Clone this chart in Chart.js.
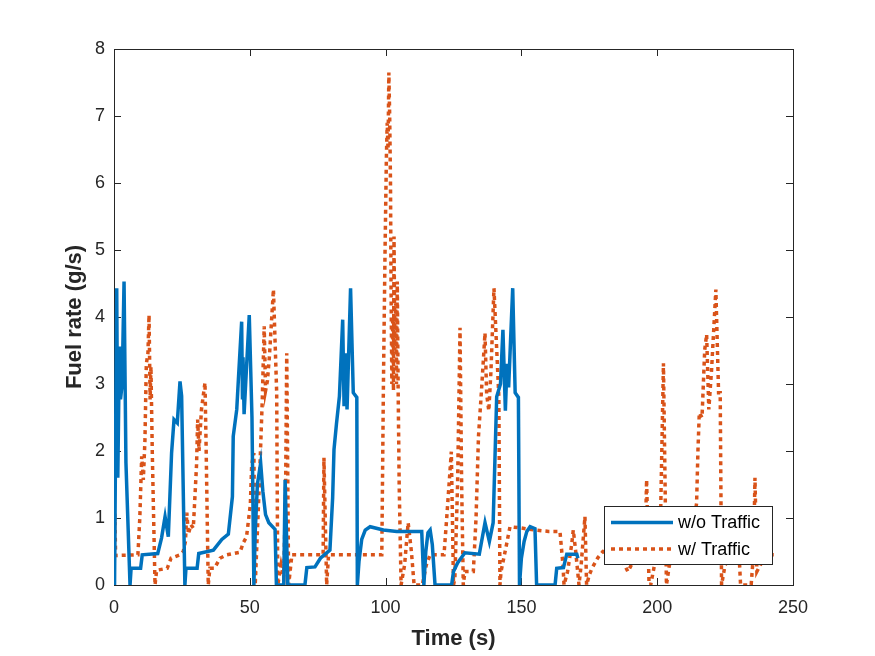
<!DOCTYPE html>
<html>
<head>
<meta charset="utf-8">
<script src="https://cdn.jsdelivr.net/npm/chart.js@4.4.1/dist/chart.umd.min.js"></script>
<style>
  body { margin: 0; background: #fff; }
</style>
</head>
<body>
<canvas id="fuelChart" width="875" height="656"></canvas>
<script>

/* DATA */

const seriesLabels = ["w/o Traffic", "w/ Traffic"];

const xTicks = [0, 50, 100, 150, 200, 250];
const yTicks = [0, 1, 2, 3, 4, 5, 6, 7, 8];

// w/o Traffic
const woTime = [
  0.2, 0.5, 1.0, 1.4, 2.0, 2.4, 3.0, 3.7, 4.4, 5.9, 6.3, 9.8, 10.4, 16.1, 17.5,
  18.8, 20.0, 21.2, 22.1, 23.3, 24.3, 24.9, 26.1, 26.5, 30.6, 31.2, 36.6, 39.7,
  42.1, 43.6, 43.9, 45.2, 45.8, 47.0, 47.3, 47.5, 47.9, 49.8, 50.8, 51.5, 52.0,
  52.8, 54.0, 54.8, 55.8, 57.0, 59.3, 59.8, 62.5, 63.0, 64.0, 70.3, 71.0, 74.0,
  76.0, 78.3, 79.5, 80.5, 81.0, 81.9, 83.0, 84.2, 84.7, 85.3, 85.8, 87.1, 88.1,
  89.4, 89.6, 90.2, 91.2, 92.5, 94.3, 99.2, 104.1, 109.0, 113.3, 114.1, 114.8,
  115.6, 116.4, 117.2, 118.2, 124.3, 125.0, 126.5, 129.2, 134.5, 136.6, 138.2,
  139.6, 140.9, 142.3, 143.2, 144.1, 144.7, 145.3, 146.8, 147.7, 148.9, 149.3,
  150.0, 151.0, 152.0, 153.2, 155.0, 155.6, 162.4, 163.0, 165.5, 166.7, 170.4,
  170.8
];
const woFuel = [
  0, 1.7, 4.43, 1.6, 3.56, 2.77, 3.0, 4.53, 1.82, 0, 0.25, 0.25, 0.45, 0.47, 0.7,
  1.02, 0.72, 1.97, 2.47, 2.42, 3.04, 2.82, 0, 0.25, 0.25, 0.47, 0.52, 0.68,
  0.76, 1.32, 2.22, 2.62, 3.07, 3.93, 2.77, 3.4, 2.55, 4.03, 2.5, 0, 0.8,
  1.5, 1.82, 1.4, 1.05, 0.93, 0.83, 0, 0, 1.57, 0, 0, 0.26, 0.27,
  0.4, 0.48, 0.52, 1.3, 2.02, 2.4, 2.82, 3.96, 2.67, 3.46, 2.62, 4.43, 2.87,
  2.8, 0, 0.35, 0.68, 0.82, 0.87, 0.82, 0.8, 0.8, 0.8, 0, 0.5,
  0.78, 0.82, 0.6, 0, 0, 0.2, 0.33, 0.48, 0.46, 0.93, 0.65,
  0.93, 2.81, 3.0, 3.81, 2.6, 3.3, 2.95, 4.43, 2.87, 2.8, 0,
  0.4, 0.65, 0.8, 0.87, 0.84, 0, 0, 0.25, 0.26, 0.46, 0.46,
  0.4
];

// w/ Traffic
const wTime = [
  0, 0.3, 0.6, 8.8, 9.5, 10.2, 10.8, 11.4, 11.9, 12.5, 12.9, 13.3, 13.6, 14.1,
  15.1, 15.7, 19.6, 21.0, 24.3, 25.5, 26.3, 26.8, 27.4, 28.3, 29.2, 29.8, 30.4,
  30.8, 31.3, 32.2, 33.5, 33.9, 34.7, 35.3, 37.0, 39.0, 41.5, 46.4, 47.6, 48.8,
  50.2, 50.7, 51.5, 52.0, 52.8, 53.5, 54.6, 55.3, 55.8, 56.5, 57.2, 58.7, 59.9,
  60.3, 61.5, 62.5, 63.2, 63.6, 64.3, 65.5, 77.0, 77.3, 78.3, 79.0, 98.6, 99.2,
  99.8, 100.3, 100.6, 100.9, 101.2, 101.5, 101.8, 102.0, 102.3, 102.6, 102.9,
  103.1, 103.4, 103.7, 104.0, 104.3, 104.6, 105.0, 105.7, 107.0, 108.3, 109.5,
  110.5, 113.5, 115.0, 116.4, 121.5, 122.5, 124.2, 125.0, 125.5, 126.5, 127.4,
  128.0, 128.6, 129.2, 132.3, 133.3, 134.2, 135.3, 136.6, 137.2, 138.0, 138.8,
  139.9, 141.7, 142.1, 142.5, 144.5, 145.8, 150.0, 155.0, 160.0, 164.2, 165.3,
  165.7, 167.0, 168.5, 169.1, 170.0, 171.2, 172.0, 173.4, 174.0, 175.0, 176.0,
  178.2, 180.0, 185.0, 188.0, 189.2, 190.5, 193.0, 195.5, 196.1, 197.0, 197.6,
  199.0, 201.0, 202.3, 203.4, 204.5, 207.0, 210.0, 213.0, 214.5, 215.0, 215.5,
  216.5, 217.5, 218.2, 219.0, 220.0, 221.6, 222.6, 223.2, 223.7, 225.0, 228.0,
  230.3, 230.7, 234.6, 235.5, 236.0, 236.7, 238.0, 240.0, 244.0
];
const wFuel = [
  0, 1.07, 0.44, 0.45, 1.0, 1.92, 1.57, 2.17, 3.3, 3.46, 4.03, 2.77, 3.26, 1.97,
  0, 0.22, 0.25, 0.4, 0.45, 0.5, 0.65, 1.08, 0.76, 0.9, 0.85, 1.32, 1.8,
  2.47, 2.0, 2.62, 3.02, 2.1, 0, 0.25, 0.25, 0.4, 0.45, 0.49, 0.63, 0.72,
  1.2, 1.8, 1.97, 0, 0.8, 1.5, 2.77, 3.86, 2.9, 3.05, 3.4, 4.41, 2.87,
  0, 0.3, 0.1, 1.5, 3.46, 0, 0.45, 0.45, 1.9, 0, 0.45, 0.45, 3.0,
  5.0, 6.4, 6.9, 6.5, 7.65, 7.0, 6.0, 4.5, 3.0, 4.0, 2.9,
  5.2, 3.5, 4.2, 3.0, 4.53, 3.0, 1.5, 0, 0.3, 0.93, 0.5,
  0, 0, 0.3, 0.45, 0.45, 1.0, 1.99, 0, 0.1, 1.5, 3.84,
  1.5, 0, 0.2, 0.2, 1.0, 2.22, 2.9, 3.76, 2.85, 2.6, 3.2,
  4.43, 2.8, 0, 0.2, 0.6, 0.87, 0.85, 0.82, 0.8, 0.8, 0.3,
  0, 0.2, 0.6, 0.82, 0.5, 0, 0.3, 1.02, 0, 0.15, 0.25,
  0.41, 0.5, 0.45, 0.3, 0.2, 0.3, 0.4, 0.5, 1.57, 0, 0,
  0.3, 0.5, 3.31, 0, 0.3, 0.5, 0.5, 0.8, 1.22, 2.0, 2.57,
  2.5, 3.51, 3.74, 2.62, 3.2, 4.41, 2.87, 2.87, 0, 0.3, 0.45,
  0.33, 0, 0, 0.5, 1.6, 0.2, 0.3, 0.45, 0.45
];

const BLUE = "#0072BD";
const ORANGE = "#D95319";
const AXIS = "#262626";
const FONT = "'Liberation Sans', Arial, Helvetica, sans-serif";


/* BOX + INWARD TICKS (matlab style) */

const boxPlugin = {
  id: "boxTicks",
  beforeDatasetsDraw(chart) {
    const { ctx, chartArea: a, scales } = chart;
    const len = 7;
    ctx.save();
    ctx.strokeStyle = AXIS;
    ctx.lineWidth = 1;
    ctx.strokeRect(a.left + 0.5, a.top + 0.5, a.right - a.left, a.bottom - a.top);
    ctx.beginPath();
    xTicks.forEach(v => {
      const x = Math.round(scales.x.getPixelForValue(v)) + 0.5;
      ctx.moveTo(x, a.bottom); ctx.lineTo(x, a.bottom - len);
      ctx.moveTo(x, a.top); ctx.lineTo(x, a.top + len);
    });
    yTicks.forEach(v => {
      const y = Math.round(scales.y.getPixelForValue(v)) + 0.5;
      ctx.moveTo(a.left, y); ctx.lineTo(a.left + len, y);
      ctx.moveTo(a.right, y); ctx.lineTo(a.right - len, y);
    });
    ctx.stroke();
    ctx.restore();
  }
};


/* LEGEND BOX INSIDE PLOT */

const legendPlugin = {
  id: "innerLegend",
  afterDatasetsDraw(chart) {
    const { ctx } = chart;
    const box = { x: 604.5, y: 506.5, w: 168, h: 58 };
    ctx.save();
    ctx.fillStyle = "#fff";
    ctx.fillRect(box.x, box.y, box.w, box.h);
    ctx.strokeStyle = AXIS;
    ctx.lineWidth = 1;
    ctx.strokeRect(box.x, box.y, box.w, box.h);

    chart.data.datasets.forEach((ds, i) => {
      const y = 522.5 + i * 26.5;
      ctx.beginPath();
      ctx.setLineDash(ds.borderDash || []);
      ctx.strokeStyle = ds.borderColor;
      ctx.lineWidth = ds.borderWidth;
      ctx.moveTo(611, y);
      ctx.lineTo(673, y);
      ctx.stroke();
      ctx.setLineDash([]);
      ctx.fillStyle = "#000";
      ctx.font = "18px " + FONT;
      ctx.textBaseline = "middle";
      ctx.fillText(ds.label, 678, y + 1);
    });
    ctx.restore();
  }
};


/* CHART */

new Chart(document.getElementById("fuelChart"), {

  type: "line",

  data: {
    datasets: [
      {
        label: seriesLabels[0],
        data: woTime.map((t, i) => ({ x: t, y: woFuel[i] })),
        borderColor: BLUE,
        borderWidth: 3.5,
        pointRadius: 0,
        tension: 0
      },
      {
        label: seriesLabels[1],
        data: wTime.map((t, i) => ({ x: t, y: wFuel[i] })),
        borderColor: ORANGE,
        borderWidth: 3.5,
        borderDash: [4, 4],
        borderCapStyle: "butt",
        pointRadius: 0,
        tension: 0
      }
    ]
  },

  options: {
    responsive: false,
    animation: false,
    layout: {
      padding: { top: 49, right: 82, left: 0, bottom: 0 }
    },
    plugins: {
      legend: { display: false },
      tooltip: { enabled: false }
    },
    scales: {
      x: {
        type: "linear",
        min: 0,
        max: 250,
        afterFit: s => { s.height = 71; },
        afterBuildTicks: s => { s.ticks = xTicks.map(v => ({ value: v })); },
        grid: { display: false, drawTicks: false },
        border: { display: false },
        ticks: {
          color: AXIS,
          padding: 12,
          font: { size: 18, family: FONT }
        },
        title: {
          display: true,
          text: "Time (s)",
          color: AXIS,
          padding: { top: 0, bottom: 4 },
          font: { size: 22, weight: "bold", family: FONT }
        }
      },
      y: {
        type: "linear",
        min: 0,
        max: 8,
        afterFit: s => { s.width = 114; },
        afterBuildTicks: s => { s.ticks = yTicks.map(v => ({ value: v })); },
        grid: { display: false, drawTicks: false },
        border: { display: false },
        ticks: {
          color: AXIS,
          padding: 9,
          font: { size: 18, family: FONT }
        },
        title: {
          display: true,
          text: "Fuel rate (g/s)",
          color: AXIS,
          padding: { top: 62, bottom: 0 },
          font: { size: 22, weight: "bold", family: FONT }
        }
      }
    }
  },

  plugins: [boxPlugin, legendPlugin]

});

</script>
</body>
</html>
